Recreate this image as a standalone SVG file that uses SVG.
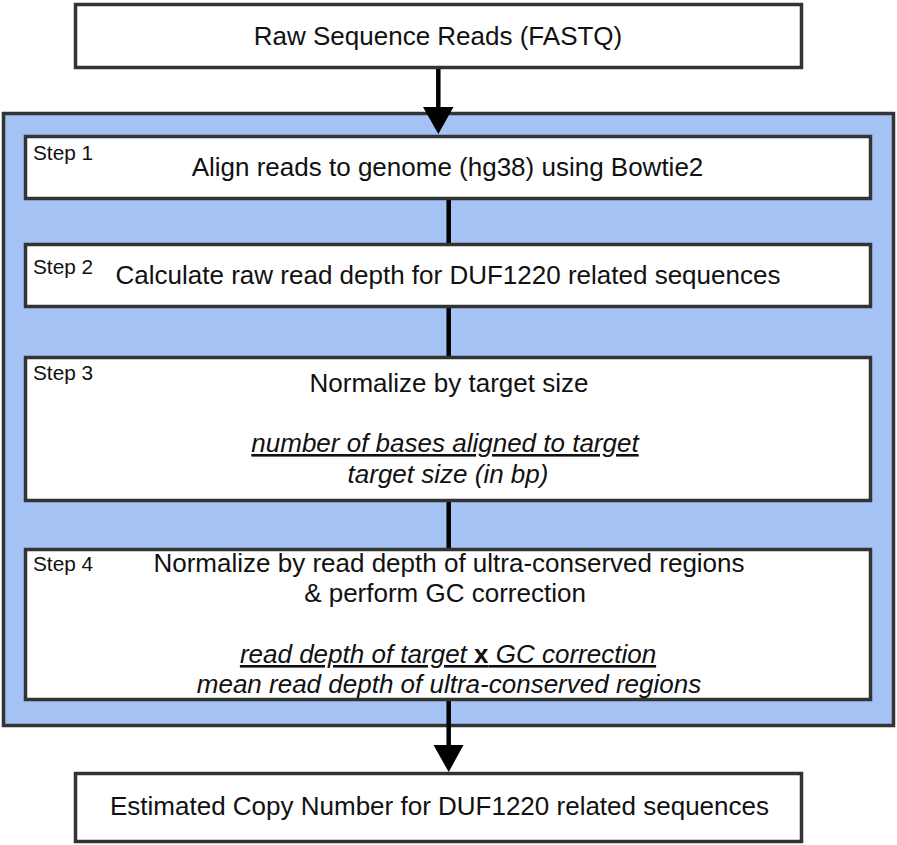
<svg xmlns="http://www.w3.org/2000/svg" width="897" height="845" viewBox="0 0 897 845">
<style>
.box{fill:#ffffff;stroke:#333333;stroke-width:3.5}
.outer{fill:#a4c2f4;stroke:#333333;stroke-width:3.5}
.t{font-family:"Liberation Sans",Arial,sans-serif;font-size:26px;fill:#111111;text-anchor:middle}
.s{font-family:"Liberation Sans",Arial,sans-serif;font-size:20.8px;fill:#111111}
.i{font-style:italic}
.u{text-decoration:underline}
.con{stroke:#000000;stroke-width:4.5;fill:none}
.head{fill:#000000}
</style>
<rect width="897" height="845" fill="#ffffff"/>
<g id="input">
<rect class="box" x="75.5" y="4.5" width="726" height="63"/>
<text class="t" x="438" y="45">Raw Sequence Reads (FASTQ)</text>
</g>
<g id="pipeline">
<rect class="outer" x="3.5" y="113.5" width="890" height="612"/>
</g>
<g id="connectors">
<line class="con" x1="438.3" y1="69" x2="438.3" y2="108"/>
<polygon class="head" points="423,107 453.5,107 438.3,134"/>
<line class="con" x1="448.7" y1="200" x2="448.7" y2="243"/>
<line class="con" x1="448.7" y1="308" x2="448.7" y2="356"/>
<line class="con" x1="448.7" y1="502" x2="448.7" y2="548"/>
<line class="con" x1="448.7" y1="701" x2="448.7" y2="746"/>
<polygon class="head" points="433.5,745 463.5,745 448.7,772"/>
</g>
<g id="step1">
<rect class="box" x="25.5" y="136.5" width="845" height="62"/>
<text class="s" x="33" y="160">Step 1</text>
<text class="t" x="447.5" y="176">Align reads to genome (hg38) using Bowtie2</text>
</g>
<g id="step2">
<rect class="box" x="25.5" y="244.5" width="845" height="62"/>
<text class="s" x="33" y="274">Step 2</text>
<text class="t" x="448" y="284">Calculate raw read depth for DUF1220 related sequences</text>
</g>
<g id="step3">
<rect class="box" x="25.5" y="357.5" width="845" height="143"/>
<text class="s" x="33" y="380">Step 3</text>
<text class="t" x="449" y="392">Normalize by target size</text>
<text class="t i u" x="445" y="452">number of bases aligned to target</text>
<text class="t i" x="448" y="483">target size (in bp)</text>
</g>
<g id="step4">
<rect class="box" x="25.5" y="549.5" width="845" height="150"/>
<text class="s" x="33" y="571">Step 4</text>
<text class="t" x="449" y="572">Normalize by read depth of ultra-conserved regions</text>
<text class="t" x="445" y="602">&amp; perform GC correction</text>
<text class="t i u" x="448" y="663">read depth of target <tspan font-style="normal" font-weight="bold">x</tspan> GC correction</text>
<text class="t i" x="449" y="693">mean read depth of ultra-conserved regions</text>
</g>
<g id="output">
<rect class="box" x="75.5" y="773.5" width="726" height="68"/>
<text class="t" x="439.5" y="815">Estimated Copy Number for DUF1220 related sequences</text>
</g>
</svg>
